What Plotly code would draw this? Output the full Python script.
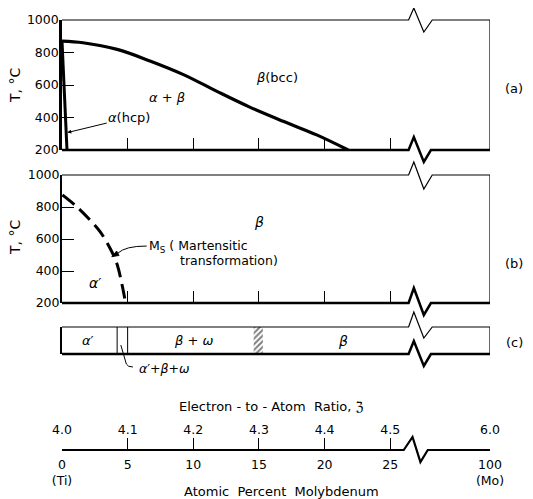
import plotly.graph_objects as go

W, H = 533, 499
OFF = 8                     # page body margin added by the browser around the figure div
FW, FH = W - OFF, H - OFF   # figure size so that it exactly fills the window
FONT = "DejaVu Sans"

# ---------------- data ----------------
mo_ticks = [0, 5, 10, 15, 20, 25, 100]
mo_tick_labels = ["0<br>(Ti)", "5", "10", "15", "20", "25", "100<br>(Mo)"]
ea_tick_labels = ["4.0", "4.1", "4.2", "4.3", "4.4", "4.5", "6.0"]
temp_ticks = [200, 400, 600, 800, 1000]
panel_inner_ticks = [5, 10, 15, 20, 25]

# (a) equilibrium diagram
beta_transus_mo = [0, 1.6, 4.2, 6.7, 9.25, 11.8, 14.3, 16.9, 19.4, 21.8]
beta_transus_t = [870, 860, 819, 748, 664, 561, 464, 375, 293, 200]
alpha_transus_mo = [0, 0.38]
alpha_transus_t = [870, 200]

# (b) martensite start
ms_mo = [0.03, 1.12, 2.13, 2.9, 3.66, 4.17, 4.55, 4.85]
ms_t = [875, 802, 719, 646, 542, 448, 323, 198]

# (c) quenched phases
c_boundaries_mo = [4.2, 5.0]
hatch_mo = [14.6, 15.3]

# ---------------- broken composition scale ----------------
MO_END_POS = 32.6          # axis position used for 100 at.% Mo (after the break)
def xpos(mo):
    return mo if mo <= 27 else MO_END_POS

def pxf(p):                 # window pixel column -> paper fraction
    return (p - OFF) / FW

def pyf(p):                 # window pixel row -> paper fraction
    return 1 - (p - OFF) / FH

XDOM = [pxf(62), pxf(490)]
DOM_A = [pyf(150), pyf(20)]
DOM_B = [pyf(303), pyf(175)]
DOM_C = [pyf(354), pyf(327)]
DOM_S = [pyf(450), pyf(438)]
H_A, H_B, H_C, H_S = 130, 128, 27, 12

fig = go.Figure()

# (a)
fig.add_trace(go.Scatter(x=[xpos(v) for v in beta_transus_mo], y=beta_transus_t,
                         mode="lines", line=dict(color="black", width=3.2, shape="spline"),
                         xaxis="x", yaxis="y", hoverinfo="skip"))
fig.add_trace(go.Scatter(x=[xpos(v) for v in alpha_transus_mo], y=alpha_transus_t,
                         mode="lines", line=dict(color="black", width=3),
                         xaxis="x", yaxis="y", hoverinfo="skip"))
# (b)
fig.add_trace(go.Scatter(x=[xpos(v) for v in ms_mo], y=ms_t,
                         mode="lines", line=dict(color="black", width=3, dash="15px,7px", shape="spline"),
                         xaxis="x2", yaxis="y2", hoverinfo="skip"))
# (c)
cx, cy = [], []
for b in c_boundaries_mo:
    cx += [xpos(b), xpos(b), None]
    cy += [0, 1, None]
fig.add_trace(go.Scatter(x=cx, y=cy, mode="lines", line=dict(color="black", width=1),
                         xaxis="x3", yaxis="y3", hoverinfo="skip"))
fig.add_trace(go.Scatter(x=[hatch_mo[0], hatch_mo[1], hatch_mo[1], hatch_mo[0], hatch_mo[0]],
                         y=[0, 0, 1, 1, 0], mode="lines", fill="toself",
                         fillcolor="white", line=dict(width=0, color="white"),
                         fillpattern=dict(shape="/", size=4, solidity=0.5, fgcolor="black", bgcolor="white"),
                         xaxis="x3", yaxis="y3", hoverinfo="skip"))
# scale subplot placeholders (bottom: at.% Mo, top: electron-to-atom ratio)
fig.add_trace(go.Scatter(x=[xpos(mo_ticks[0])], y=[0], mode="markers", marker=dict(opacity=0),
                         xaxis="x4", yaxis="y4", hoverinfo="skip"))
fig.add_trace(go.Scatter(x=[xpos(mo_ticks[0])], y=[0], mode="markers", marker=dict(opacity=0),
                         xaxis="x5", yaxis="y4", hoverinfo="skip"))

# ---------------- frames with break marks ----------------
shapes = []
def frame(xr, yr, h, top_up, top_dn, bot_up, bot_dn):
    b0, b1, b2, b3 = 26.4, 26.8, 27.56, 28.2
    shapes.append(dict(type="path", xref=xr, yref=yr, line=dict(color="black", width=1.2),
                       path=f"M 0,1 L {b0},1 L {b1},{1 + top_up / h} L {b2},{1 - top_dn / h} "
                            f"L {b3},1 L {MO_END_POS},1"))
    shapes.append(dict(type="path", xref=xr, yref=yr, line=dict(color="black", width=2.5),
                       path=f"M 0,0 L {b0},0 L {b1},{bot_up / h} L {b2},{-bot_dn / h} "
                            f"L {b3 - 0.1},0 L {MO_END_POS},0"))
    shapes.append(dict(type="path", xref=xr, yref=yr, line=dict(color="black", width=1.2),
                       path=f"M {MO_END_POS},0 L {MO_END_POS},1"))

frame("x", "y domain", H_A, 12, 12, 13, 12)
frame("x2", "y2 domain", H_B, 13, 14, 15, 12)
frame("x3", "y3 domain", H_C, 15, 11, 13, 12)

# bottom composition scale line with break
shapes.append(dict(type="path", xref="x4", yref="y4 domain", line=dict(color="black", width=2.2),
                   path=f"M 0,0 L 26.03,0 L 26.7,{13 / H_S} L 27.3,{-12 / H_S} L 27.86,0 L {MO_END_POS},0"))
# leader for alpha'+beta+omega
shapes.append(dict(type="path", xref="x3", yref="y3 domain", line=dict(color="black", width=1),
                   path=f"M 4.48,0.33 L 4.9,{-10 / H_C} Q 5.0,{-13 / H_C} 5.4,{-13 / H_C}"))
# leader arrow for Ms (tail at label, head on the dashed curve)
shapes.append(dict(type="path", xref="x2", yref="y2", line=dict(color="black", width=1),
                   path="M 6.45,556 Q 4.81,556 4.25,511"))
shapes.append(dict(type="path", xref="x2", yref="y2", line=dict(color="black", width=0.8),
                   fillcolor="black", path="M 3.79,489 L 4.35,497 L 4.16,525 Z"))

# ---------------- annotations ----------------
ann = []
def txt(x, y, s, xr, yr, size=13, **kw):
    d = dict(x=x, y=y, text=s, xref=xr, yref=yr, showarrow=False,
             xanchor="center", yanchor="middle",
             font=dict(family=FONT, size=size, color="black"))
    d.update(kw)
    ann.append(d)

txt(8.0, 522, "<i>α</i> + <i>β</i>", "x", "y")
txt(16.4, 645, "<i>β</i>(bcc)", "x", "y")
ann.append(dict(x=0.40, y=307, xref="x", yref="y", text="<i>α</i>(hcp)", showarrow=True,
                ax=62, ay=-15, arrowhead=2, arrowsize=0.8, arrowwidth=1, arrowcolor="black",
                standoff=0, font=dict(family=FONT, size=13, color="black")))

txt(15.0, 706, "<i>β</i>", "x2", "y2", size=14)
txt(2.5, 325, "<i>α</i>′", "x2", "y2", size=14)
txt(6.5, 553, "M<sub>S</sub> ( Martensitic", "x2", "y2", size=12.5, xanchor="left")
txt(8.8, 463, "transformation)", "x2", "y2", size=12.5, xanchor="left")

txt(2.0, 0.5, "<i>α</i>′", "x3", "y3 domain", size=13)
txt(10.0, 0.5, "<i>β</i> + <i>ω</i>", "x3", "y3 domain", size=13)
txt(21.4, 0.5, "<i>β</i>", "x3", "y3 domain", size=14)
txt(5.7, -0.55, "<i>α</i>′+<i>β</i>+<i>ω</i>", "x3", "y3 domain", size=12.5, xanchor="left")

txt(pxf(514), pyf(88), "(a)", "paper", "paper", size=13)
txt(pxf(514), pyf(263), "(b)", "paper", "paper", size=13)
txt(pxf(514), pyf(342), "(c)", "paper", "paper", size=13)

txt(pxf(15), pyf(86), "T, °C", "paper", "paper", size=14, textangle=-90)
txt(pxf(15), pyf(238), "T, °C", "paper", "paper", size=14, textangle=-90)
txt(pxf(271), pyf(406), "Electron - to - Atom  Ratio, ℨ", "paper", "paper", size=13)
txt(pxf(281), pyf(491), "Atomic  Percent  Molybdenum", "paper", "paper", size=13)

# ---------------- axes ----------------
tickfont = dict(family=FONT, size=12.5, color="black")
def xax(anchor, **kw):
    d = dict(domain=XDOM, range=[0, MO_END_POS], anchor=anchor, showgrid=False, zeroline=False,
             showline=False, tickvals=panel_inner_ticks, ticks="inside", ticklen=12,
             tickcolor="black", tickwidth=1, showticklabels=False, fixedrange=True,
             automargin=False)
    d.update(kw)
    return d

def yax(anchor, dom, lw, **kw):
    d = dict(domain=dom, range=[200, 1000], anchor=anchor, showgrid=False, zeroline=False,
             showline=True, linecolor="black", linewidth=lw, tickvals=temp_ticks,
             ticktext=[str(t) for t in temp_ticks], ticks="inside", ticklen=12,
             tickcolor="black", tickwidth=1, tickfont=tickfont, fixedrange=True,
             automargin=False, ticklabelstandoff=-2)
    d.update(kw)
    return d

fig.update_layout(
    width=FW, height=FH, margin=dict(l=0, r=0, t=0, b=0, autoexpand=False),
    paper_bgcolor="white", plot_bgcolor="rgba(0,0,0,0)", showlegend=False,
    xaxis=xax("y"),
    yaxis=yax("x", DOM_A, 2.6),
    xaxis2=xax("y2"),
    yaxis2=yax("x2", DOM_B, 2.0),
    xaxis3=xax("y3", ticks="", tickvals=[]),
    yaxis3=dict(domain=DOM_C, range=[0, 1], anchor="x3", showgrid=False, zeroline=False,
                showline=True, linecolor="black", linewidth=2, ticks="", showticklabels=False,
                fixedrange=True, automargin=False),
    xaxis4=xax("y4", tickvals=[xpos(v) for v in mo_ticks], ticktext=mo_tick_labels,
               showticklabels=True, tickfont=tickfont, ticklabelstandoff=5),
    xaxis5=dict(overlaying="x4", side="top", anchor="y4", range=[0, MO_END_POS],
                tickvals=[xpos(v) for v in mo_ticks], ticktext=ea_tick_labels, ticks="",
                showgrid=False, zeroline=False, showline=False, tickfont=tickfont,
                ticklabelstandoff=1, fixedrange=True, automargin=False),
    yaxis4=dict(domain=DOM_S, range=[0, 1], anchor="x4", showgrid=False, zeroline=False,
                showline=False, ticks="", showticklabels=False, fixedrange=True,
                automargin=False),
    shapes=shapes, annotations=ann,
)

fig.write_html("out.html")
